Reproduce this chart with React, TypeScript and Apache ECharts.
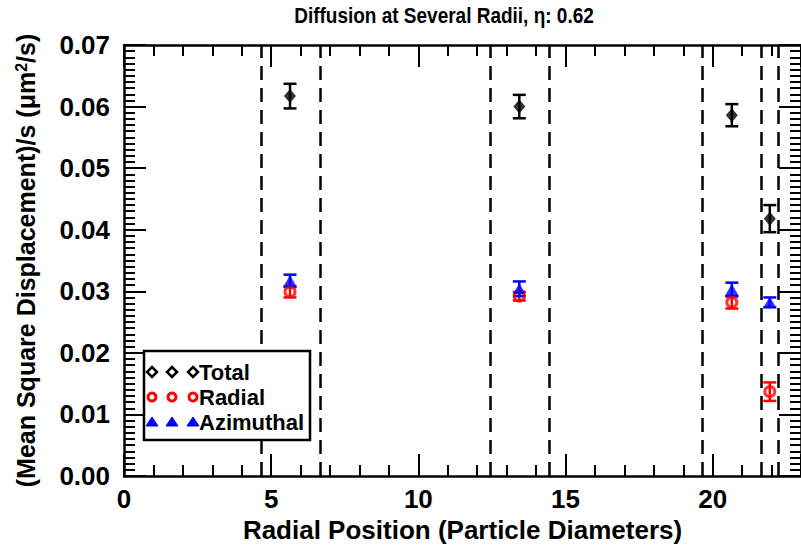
import React, { useEffect, useRef } from "react";
import * as echarts from "echarts";

// ---- data ----
const xPositions = [5.64, 13.43, 20.65, 21.94];
const totalValues = [0.0617, 0.06, 0.0586, 0.0418];
const totalErrors = [0.002, 0.0019, 0.0018, 0.0022];
const radialValues = [0.0299, 0.0292, 0.0282, 0.0137];
const radialErrors = [0.0009, 0.0007, 0.001, 0.0015];
const azimuthalValues = [0.0317, 0.0304, 0.0303, 0.0282];
const azimuthalErrors = [0.001, 0.0012, 0.0011, 0.0008];
const boundaryLines = [4.66, 6.66, 12.44, 14.44, 19.64, 21.66, 22.23];
const legendLabels = ["Total", "Radial", "Azimuthal"];
const titleText = "Diffusion at Several Radii, η: 0.62";
const xAxisTitle = "Radial Position (Particle Diameters)";
const yAxisTitle = "(Mean Square Displacement)/s (μm{sup|2}/s)";

const FONT = '"Liberation Sans", Arial, sans-serif';
const BLACK = "#000000";
const RED = "#ff0000";
const BLUE = "#0000ff";

function errorBars(name: string, values: number[], errors: number[], color: string) {
  return {
    type: "custom",
    name: name + " err",
    xAxisIndex: 0,
    yAxisIndex: 0,
    silent: true,
    z: 3,
    encode: { x: 0, y: [1, 2] },
    data: xPositions.map((x, i) => [x, values[i] - errors[i], values[i] + errors[i]]),
    renderItem: (_params: any, api: any) => {
      const x = api.value(0);
      const lo = api.coord([x, api.value(1)]);
      const hi = api.coord([x, api.value(2)]);
      const hw = 6.5;
      const style = { stroke: color, lineWidth: 2.5, fill: "none" };
      return {
        type: "group",
        children: [
          { type: "line", shape: { x1: lo[0], y1: lo[1], x2: hi[0], y2: hi[1] }, style },
          { type: "line", shape: { x1: lo[0] - hw, y1: lo[1], x2: lo[0] + hw, y2: lo[1] }, style },
          { type: "line", shape: { x1: hi[0] - hw, y1: hi[1], x2: hi[0] + hw, y2: hi[1] }, style },
        ],
      };
    },
  };
}

function buildGraphics() {
  const rowsY = [372, 397, 422];
  const symX = [152, 172, 193];
  const items: any[] = [
    {
      type: "text",
      z: 101,
      x: 444,
      y: 15,
      scaleY: 1.2,
      style: {
        text: titleText,
        fill: BLACK,
        fontFamily: FONT,
        fontWeight: "bold",
        fontSize: 19,
        align: "center",
        verticalAlign: "middle",
      },
    },
    {
      type: "rect",
      z: 100,
      shape: { x: 144, y: 351, width: 166, height: 89 },
      style: { fill: "#ffffff", stroke: BLACK, lineWidth: 2.5 },
    },
  ];
  legendLabels.forEach((label, row) => {
    const cy = rowsY[row];
    symX.forEach((cx) => {
      if (row === 0) {
        items.push({
          type: "polygon",
          z: 101,
          shape: { points: [[cx, cy - 5], [cx + 5, cy], [cx, cy + 5], [cx - 5, cy]] },
          style: { fill: "#ffffff", stroke: BLACK, lineWidth: 2.5 },
        });
      } else if (row === 1) {
        items.push({
          type: "circle",
          z: 101,
          shape: { cx, cy, r: 4 },
          style: { fill: "#ffffff", stroke: RED, lineWidth: 3 },
        });
      } else {
        items.push({
          type: "polygon",
          z: 101,
          shape: { points: [[cx, cy - 5], [cx + 6, cy + 4], [cx - 6, cy + 4]] },
          style: { fill: BLUE, stroke: BLUE, lineWidth: 1 },
        });
      }
    });
    items.push({
      type: "text",
      z: 101,
      x: 199,
      y: cy,
      style: {
        text: label,
        fill: BLACK,
        fontFamily: FONT,
        fontWeight: "bold",
        fontSize: 22,
        verticalAlign: "middle",
        align: "left",
      },
    });
  });
  return items;
}

export default function App() {
  const ref = useRef<HTMLDivElement>(null);
  useEffect(() => {
    if (!ref.current) return;
    const chart = echarts.init(ref.current, null, { renderer: "svg" });
    const lineStyle = { color: BLACK, width: 2.5 };
    const tickStyle = { color: BLACK, width: 2 };
    const labelStyle = { fontFamily: FONT, fontWeight: "bold" as const, fontSize: 26, color: BLACK };
    const xCommon = { type: "value", min: 0, max: 23, splitLine: { show: false } };
    const yCommon = { type: "value", min: 0, max: 0.07, interval: 0.01, splitLine: { show: false } };

    chart.setOption({
      animation: false,
      backgroundColor: "#ffffff",
      grid: { left: 124, top: 45, width: 680, height: 431, containLabel: false },
      xAxis: [
        {
          ...xCommon,
          position: "bottom",
          interval: 1,
          axisLine: { onZero: false, lineStyle },
          axisTick: { inside: true, length: 11, lineStyle: tickStyle },
          axisLabel: {
            ...labelStyle,
            margin: 10,
            showMaxLabel: false,
            formatter: (v: number) => (v % 5 === 0 ? String(v) : ""),
          },
          name: xAxisTitle,
          nameLocation: "middle",
          nameGap: 38,
          nameTextStyle: { ...labelStyle },
        },
        {
          ...xCommon,
          position: "bottom",
          interval: 5,
          axisLine: { show: false, onZero: false },
          axisTick: { inside: true, length: 22, lineStyle: tickStyle },
          axisLabel: { show: false },
        },
        {
          ...xCommon,
          position: "top",
          interval: 1,
          axisLine: { onZero: false, lineStyle },
          axisTick: { inside: true, length: 11, lineStyle: tickStyle },
          axisLabel: { show: false },
        },
        {
          ...xCommon,
          position: "top",
          interval: 5,
          axisLine: { show: false, onZero: false },
          axisTick: { inside: true, length: 22, lineStyle: tickStyle },
          axisLabel: { show: false },
        },
      ],
      yAxis: [
        {
          ...yCommon,
          position: "left",
          axisLine: { onZero: false, lineStyle },
          axisTick: { inside: true, length: 22, lineStyle: tickStyle },
          minorTick: { show: true, splitNumber: 10, length: 11, lineStyle: tickStyle },
          axisLabel: { ...labelStyle, margin: 14, formatter: (v: number) => v.toFixed(2) },
          name: yAxisTitle,
          nameLocation: "middle",
          nameGap: 86,
          nameRotate: 90,
          nameTextStyle: {
            ...labelStyle,
            fontSize: 25,
            rich: {
              sup: { fontFamily: FONT, fontWeight: "bold", fontSize: 16, color: BLACK, verticalAlign: "top" },
            },
          },
        },
        {
          ...yCommon,
          position: "right",
          axisLine: { onZero: false, lineStyle },
          axisTick: { inside: true, length: 22, lineStyle: tickStyle },
          minorTick: { show: true, splitNumber: 10, length: 11, lineStyle: tickStyle },
          axisLabel: { show: false },
        },
      ],
      series: [
        {
          type: "line",
          name: "boundaries",
          data: [],
          xAxisIndex: 0,
          yAxisIndex: 0,
          markLine: {
            silent: true,
            symbol: ["none", "none"],
            label: { show: false },
            lineStyle: { type: [14, 8], color: BLACK, width: 2.5 },
            data: boundaryLines.map((v) => ({ xAxis: v })),
          },
        },
        errorBars("Total", totalValues, totalErrors, BLACK),
        errorBars("Radial", radialValues, radialErrors, RED),
        errorBars("Azimuthal", azimuthalValues, azimuthalErrors, BLUE),
        {
          type: "scatter",
          name: "Total",
          xAxisIndex: 0,
          yAxisIndex: 0,
          z: 4,
          symbol: "diamond",
          symbolSize: [12, 14],
          itemStyle: { color: BLACK },
          data: xPositions.map((x, i) => [x, totalValues[i]]),
        },
        {
          type: "scatter",
          name: "Radial",
          xAxisIndex: 0,
          yAxisIndex: 0,
          z: 4,
          symbol: "circle",
          symbolSize: 10,
          itemStyle: { color: "rgba(0,0,0,0)", borderColor: RED, borderWidth: 3 },
          data: xPositions.map((x, i) => [x, radialValues[i]]),
        },
        {
          type: "scatter",
          name: "Azimuthal",
          xAxisIndex: 0,
          yAxisIndex: 0,
          z: 5,
          symbol: "triangle",
          symbolSize: [13, 11],
          itemStyle: { color: BLUE },
          data: xPositions.map((x, i) => [x, azimuthalValues[i]]),
        },
      ],
      graphic: buildGraphics(),
    });
    return () => chart.dispose();
  }, []);
  return (
    <div
      ref={ref}
      style={{ position: "absolute", left: 0, top: 0, width: 801, height: 552, background: "#fff" }}
    />
  );
}
